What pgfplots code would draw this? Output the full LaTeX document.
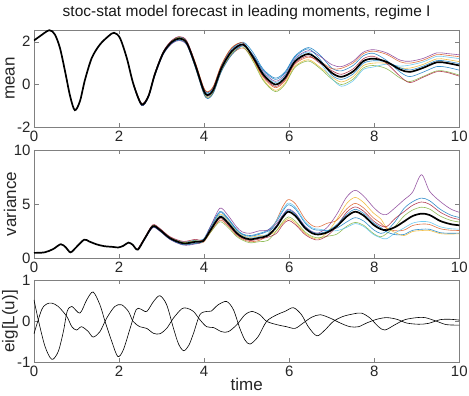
\documentclass[border=0pt]{standalone}
\usepackage{fontspec}
\setmainfont{Liberation Sans}
\usepackage{pgfplots}
\pgfplotsset{compat=1.18}
\usepackage{pgfplotstable}

% matlab line colours
\definecolor{c1}{rgb}{0,0.447,0.741}
\definecolor{c2}{rgb}{0.85,0.325,0.098}
\definecolor{c3}{rgb}{0.929,0.694,0.125}
\definecolor{c4}{rgb}{0.494,0.184,0.556}
\definecolor{c5}{rgb}{0.466,0.674,0.188}
\definecolor{c6}{rgb}{0.301,0.745,0.933}
\definecolor{c7}{rgb}{0.635,0.078,0.184}

% ensemble members, mean panel
\pgfplotstableread{
t     a     b     c     d     e     f     g     h
2.34  0.02 -0.02  0.01 -0.03  0.02 -0.01  0.03 -0.02
2.53 -0.89 -0.96 -0.91 -0.98 -0.90 -0.95 -0.88 -0.97
2.69 -0.51 -0.58 -0.53 -0.60 -0.52 -0.57 -0.50 -0.59
2.84  0.52  0.43  0.49  0.41  0.50  0.45  0.53  0.42
3.04  1.54  1.44  1.50  1.41  1.52  1.46  1.55  1.42
3.24  2.05  1.94  2.01  1.91  2.03  1.97  2.07  1.93
3.42  2.22  2.10  2.18  2.06  2.20  2.12  2.24  2.08
3.59  2.03  1.89  1.98  1.85  1.95  1.95  2.05  1.87
3.79  1.00  0.82  1.05  0.89  0.86  0.98  1.04  0.81
3.98 -0.15 -0.36 -0.09 -0.27 -0.31 -0.17 -0.10 -0.37
4.08 -0.40 -0.64 -0.34 -0.55 -0.60 -0.44 -0.36 -0.66
4.22 -0.13 -0.37 -0.07 -0.28 -0.33 -0.17 -0.09 -0.39
4.41  0.88  0.64  0.94  0.73  0.68  0.84  0.92  0.62
4.65  1.66  1.41  1.73  1.51  1.46  1.63  1.71  1.39
4.92  1.98  1.71  1.94  1.82  1.76  1.94  1.94  1.82
5.16  1.47  1.14  1.14  1.36  1.05  1.32  1.18  1.34
5.39  0.72  0.34  0.24  0.60  0.19  0.55  0.39  0.67
5.67  0.30 -0.15 -0.27  0.15 -0.33  0.09 -0.09  0.24
5.90  0.59  0.17  0.06  0.45  0.00  0.39  0.23  0.53
6.14  1.34  0.96  0.86  1.22  0.81  1.17  1.01  1.29
6.45  1.73  1.28  1.16  1.58  1.10  1.52  1.34  1.67
6.72  1.39  1.09  0.82  1.33  0.76  1.03  1.00  1.19
7.00  0.77  0.74  0.36  0.93  0.26  0.29  0.65  0.45
7.23  0.64  0.76  0.12  0.84  0.00 -0.08  0.48  0.24
7.51  0.90  1.02  0.38  1.10  0.26  0.18  0.74  0.50
7.74  1.34  1.44  0.88  1.51  0.77  0.70  1.20  0.99
7.98  1.46  1.56  1.00  1.63  0.89  0.82  1.32  1.11
8.29  1.13  1.41  0.99  1.48  0.74  0.95  0.99  1.06
8.61  0.58  1.06  0.78  1.14  0.30  0.86  0.38  0.78
8.84  0.37  1.00  0.77  1.09  0.14  0.91  0.09  0.68
9.15  0.58  1.14  0.94  1.22  0.38  1.06  0.34  0.86
9.47  0.84  1.40  1.20  1.48  0.64  1.32  0.60  1.12
9.70  0.81  1.37  1.17  1.45  0.61  1.29  0.57  1.09
10.00 0.67  1.30  1.07  1.39  0.44  1.21  0.39  0.98
}\meanens

% ensemble members, variance panel
\pgfplotstableread{
t     a     b     c     d     e     f     g     h
2.44  0.83  0.77  0.82  0.76  0.82  0.78  0.85  0.77
2.60  1.86  1.75  1.83  1.72  1.84  1.77  1.89  1.74
2.79  3.04  2.87  3.00  2.83  3.01  2.90  3.09  2.86
2.95  2.74  2.57  2.70  2.53  2.71  2.60  2.79  2.56
3.20  1.94  1.77  1.90  1.73  1.91  1.80  1.99  1.76
3.51  1.50  1.28  1.44  1.22  1.46  1.32  1.56  1.26
3.79  1.67  1.39  1.60  1.32  1.62  1.44  1.75  1.37
3.98  1.75  1.47  1.68  1.60  1.55  1.52  1.68  1.60
4.15  2.95  2.39  2.78  2.95  2.39  2.71  2.56  2.78
4.37  4.32  3.52  4.07  4.62  3.37  3.97  3.67  4.22
4.55  3.75  3.03  3.53  4.02  2.89  3.44  3.16  3.66
4.76  2.70  2.14  2.53  2.91  2.03  2.46  2.24  2.63
4.90  2.25  1.77  2.10  2.43  1.68  2.04  1.86  2.19
5.08  2.10  1.54  1.93  2.31  1.43  1.86  1.64  2.03
5.30  2.30  1.66  2.10  2.54  1.54  2.02  1.78  2.22
5.50  2.60  2.20  2.10  2.60  1.65  2.25  1.95  2.50
5.70  3.38  3.50  2.54  3.20  2.54  3.50  2.30  3.02
5.85  4.36  4.78  3.24  4.01  3.38  4.50  3.10  3.94
5.98  4.94  5.42  3.66  4.54  3.82  5.10  3.50  4.46
6.15  4.54  5.02  3.26  4.14  3.42  4.70  3.10  4.06
6.37  3.28  3.64  2.32  2.98  2.44  3.40  2.20  2.92
6.55  2.70  3.00  1.90  2.45  2.00  2.80  1.80  2.40
6.69  2.60  2.90  1.80  2.35  1.90  2.70  1.70  2.30
6.90  2.58  3.24  2.40  2.88  2.04  2.58  2.10  2.52
7.12  2.79  3.51  3.59  4.07  2.23  2.55  2.95  3.11
7.35  3.35  4.55  5.05  5.65  2.95  2.85  4.25  4.05
7.55  3.75  5.07  5.62  6.28  3.31  3.20  4.74  4.52
7.75  3.45  4.65  5.15  5.75  3.05  2.95  4.35  4.15
7.98  2.65  3.73  4.18  4.72  2.29  2.20  3.46  3.28
8.15  2.30  3.26  3.66  4.14  1.98  1.90  3.02  2.86
8.29  2.52  2.76  2.84  4.04  2.28  1.80  2.92  2.44
8.50  3.44  2.54  2.36  4.70  2.99  2.36  3.71  2.18
8.70  4.60  2.60  2.10  5.40  3.90  2.80  4.30  2.20
8.90  5.22  3.02  2.47  6.10  4.45  3.24  4.89  2.58
9.11  5.56  3.16  2.56  7.72  4.72  3.40  5.20  2.68
9.30  5.32  3.12  2.57  6.20  4.55  3.34  4.99  2.68
9.55  4.53  2.73  2.28  5.25  3.90  2.91  4.26  2.37
9.80  3.99  2.59  2.24  4.55  3.50  2.73  3.78  2.31
10.00 3.77  2.57  2.27  4.25  3.35  2.69  3.59  2.33
}\varens

\pgfplotsset{
  panel/.style={
    scale only axis, width=425.3pt,
    xmin=0, xmax=10, xtick={0,2,...,10},
    tick pos=both, xticklabel pos=lower, yticklabel pos=left,
    tick align=inside, major tick length=4.5pt,
    axis line style={black!50, line width=0.5pt},
    every tick/.style={black!50, line width=0.5pt},
    tick label style={font=\fontsize{15}{15}\selectfont, text=black!85},
    /pgf/number format/assume math mode=true,
    every axis y label/.style={at={(axis description cs:-0.0564,0.5)},
      rotate=90, anchor=center, font=\fontsize{17}{17}\selectfont, text=black!85},
  },
  member/.style={smooth, line width=0.6pt, opacity=0.8},
}

\begin{document}
\begin{tikzpicture}
\path[use as bounding box] (0pt,0pt) rectangle (469pt,396pt);

% mean
\begin{axis}[panel, at={(34pt,268.7pt)}, anchor=south west, height=97.3pt,
    ymin=-2, ymax=2.55, ytick={-2,0,2}, ylabel={mean},
    title={stoc-stat model forecast in leading moments, regime I},
    title style={at={(axis description cs:0.5,1.075)}, anchor=base,
      font=\fontsize{15.5}{16}\selectfont, text=black!90}]
\addplot[member, c1] table[x=t, y=a] {\meanens};
\addplot[member, c2] table[x=t, y=b] {\meanens};
\addplot[member, c3] table[x=t, y=c] {\meanens};
\addplot[member, c4] table[x=t, y=d] {\meanens};
\addplot[member, c5] table[x=t, y=e] {\meanens};
\addplot[member, c6] table[x=t, y=f] {\meanens};
\addplot[member, c7] table[x=t, y=g] {\meanens};
\addplot[member, c1] table[x=t, y=h] {\meanens};
\addplot[black, line width=1.7pt, smooth] coordinates {
  (0,2.06) (0.14,2.26) (0.36,2.54) (0.49,2.34) (0.61,1.71) (0.73,0.62)
  (0.85,-0.55) (0.96,-1.20) (1.08,-0.78) (1.20,0.23) (1.36,1.25) (1.55,1.87)
  (1.75,2.26) (1.88,2.42) (2.02,2.18) (2.18,1.25) (2.34,0.00) (2.53,-0.93)
  (2.69,-0.55) (2.84,0.47) (3.04,1.48) (3.24,1.99) (3.42,2.15) (3.59,1.95)
  (3.79,0.93) (3.98,-0.23) (4.08,-0.50) (4.22,-0.23) (4.41,0.78) (4.65,1.56)
  (4.92,1.87) (5.16,1.25) (5.39,0.47) (5.67,0.00) (5.90,0.31) (6.14,1.09)
  (6.45,1.43) (6.72,1.09) (7.00,0.55) (7.23,0.36) (7.51,0.62) (7.74,1.09)
  (7.98,1.21) (8.29,1.06) (8.61,0.70) (8.84,0.59) (9.15,0.78) (9.47,1.04)
  (9.70,1.01) (10.00,0.89)
};
\end{axis}

% variance
\begin{axis}[panel, at={(34pt,137.7pt)}, anchor=south west, height=108.3pt,
    ymin=0, ymax=10, ytick={0,5,10}, ylabel={variance}]
\addplot[member, c1] table[x=t, y=a] {\varens};
\addplot[member, c2] table[x=t, y=b] {\varens};
\addplot[member, c3] table[x=t, y=c] {\varens};
\addplot[member, c4] table[x=t, y=d] {\varens};
\addplot[member, c5] table[x=t, y=e] {\varens};
\addplot[member, c6] table[x=t, y=f] {\varens};
\addplot[member, c7] table[x=t, y=g] {\varens};
\addplot[member, c1] table[x=t, y=h] {\varens};
\addplot[black, line width=1.7pt, smooth] coordinates {
  (0,0.50) (0.25,0.55) (0.45,0.85) (0.63,1.30) (0.75,1.00) (0.86,0.55)
  (1.00,1.05) (1.18,1.72) (1.30,1.55) (1.47,1.29) (1.65,1.12) (1.86,1.05)
  (1.98,1.00) (2.10,1.15) (2.22,1.45) (2.32,1.25) (2.44,0.80) (2.60,1.80)
  (2.79,2.95) (2.95,2.65) (3.20,1.85) (3.51,1.38) (3.79,1.52) (3.98,1.60)
  (4.15,2.60) (4.37,3.82) (4.55,3.30) (4.76,2.35) (4.90,1.95) (5.08,1.75)
  (5.30,1.90) (5.50,2.10) (5.70,2.90) (5.85,3.80) (5.98,4.30) (6.15,3.90)
  (6.37,2.80) (6.55,2.30) (6.69,2.20) (6.90,2.40) (7.12,2.95) (7.35,3.85)
  (7.55,4.30) (7.75,3.95) (7.98,3.10) (8.15,2.70) (8.29,2.60) (8.50,2.90)
  (8.70,3.40) (8.90,3.90) (9.11,4.12) (9.30,4.00) (9.55,3.45) (9.80,3.15)
  (10.00,3.05)
};
\end{axis}

% eigenvalues
\begin{axis}[panel, at={(34pt,33.3pt)}, anchor=south west, height=82.7pt,
    ymin=-1, ymax=1, ytick={-1,0,1}, ylabel={eig[L(u)]}, xlabel={time},
    xlabel style={at={(axis description cs:0.5,-0.34)}, anchor=base,
      font=\fontsize{17}{17}\selectfont, text=black!85}]
\addplot[black, line width=0.6pt, smooth] coordinates {
  (0,0.52) (0.10,0.04) (0.26,-0.61) (0.42,-0.92) (0.57,-0.73) (0.69,-0.25)
  (0.78,0.24) (0.89,0.36) (1.08,0.20) (1.24,0.52) (1.39,0.71) (1.55,0.40)
  (1.67,0.00) (1.83,-0.49) (1.97,-0.85) (2.10,-0.69) (2.26,-0.17) (2.40,0.28)
  (2.50,0.30) (2.65,0.24) (2.81,0.48) (2.96,0.62) (3.12,0.40) (3.28,-0.17)
  (3.40,-0.55) (3.52,-0.71) (3.64,-0.58) (3.75,-0.29) (3.90,0.16) (4.06,0.24)
  (4.17,0.25) (4.33,0.40) (4.53,0.48) (4.69,0.28) (4.84,-0.17) (4.96,-0.45)
  (5.08,-0.55) (5.27,-0.37) (5.47,0.00) (5.71,0.16) (5.90,0.24) (6.10,0.33)
  (6.29,0.16) (6.45,-0.13) (6.65,-0.35) (6.84,-0.21) (7.04,0.00) (7.27,0.12)
  (7.51,0.18) (7.70,0.20) (7.90,0.08) (8.10,-0.13) (8.25,-0.21) (8.49,-0.08)
  (8.72,0.04) (9.00,0.09) (9.20,0.09) (9.47,0.00) (9.70,-0.08) (10.00,-0.09)
};
\addplot[black, line width=0.6pt, smooth] coordinates {
  (0,-0.30) (0.18,0.28) (0.30,0.42) (0.42,0.44) (0.57,0.36) (0.77,0.12)
  (0.89,-0.13) (1.00,-0.21) (1.12,-0.13) (1.28,-0.25) (1.39,-0.38) (1.55,-0.25)
  (1.71,0.08) (1.90,0.36) (2.06,0.40) (2.22,0.24) (2.33,0.00) (2.49,-0.13)
  (2.65,-0.17) (2.81,-0.29) (2.96,-0.30) (3.12,-0.17) (3.28,0.08) (3.47,0.30)
  (3.59,0.32) (3.75,0.24) (3.90,0.04) (4.06,-0.13) (4.22,-0.15) (4.41,-0.25)
  (4.57,-0.25) (4.77,-0.08) (4.96,0.16) (5.12,0.24) (5.31,0.16) (5.47,0.00)
  (5.71,-0.08) (5.94,-0.13) (6.14,-0.17) (6.33,-0.04) (6.53,0.10) (6.73,0.16)
  (6.96,0.08) (7.20,-0.04) (7.43,-0.13) (7.63,-0.13) (7.82,-0.04) (8.06,0.05)
  (8.29,0.09) (8.53,0.05) (8.76,-0.04) (9.04,-0.07) (9.27,-0.05) (9.55,0.04)
  (9.78,0.05) (10.00,0.03)
};
\end{axis}
\end{tikzpicture}
\end{document}
